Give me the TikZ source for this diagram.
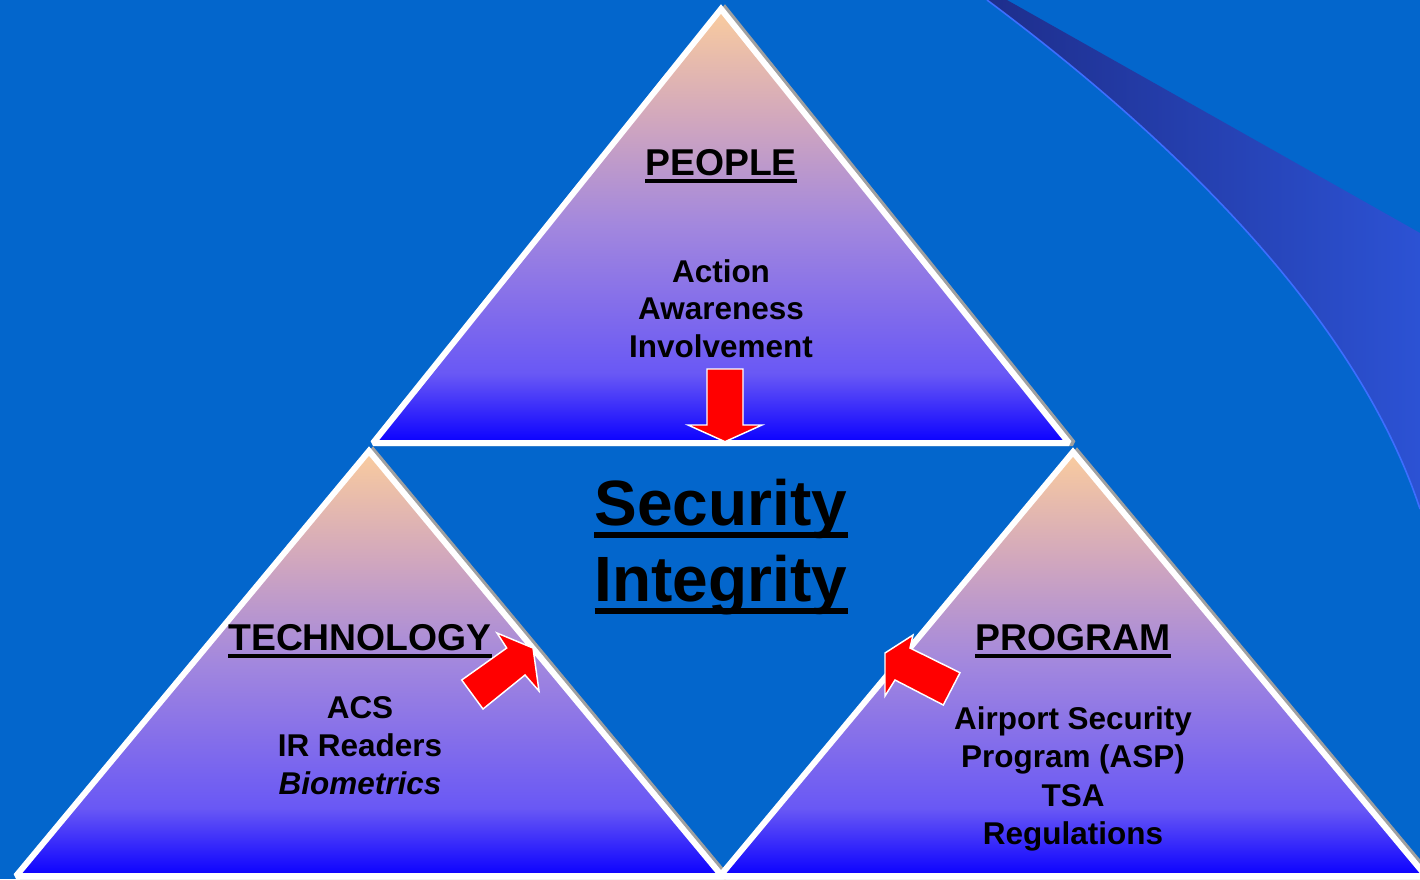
\documentclass[tikz,border=0pt]{standalone}
\usepackage{fontspec}
\setmainfont{Liberation Sans}
\definecolor{bgblue}{RGB}{3,102,204}
\definecolor{swl}{RGB}{30,46,140}
\definecolor{swr}{RGB}{44,82,212}
\definecolor{swline}{RGB}{60,110,255}
\definecolor{tritop}{RGB}{250,204,158}
\definecolor{tri3}{RGB}{208,166,190}
\definecolor{tri2}{RGB}{162,135,222}
\definecolor{tri1}{RGB}{105,88,245}
\definecolor{tribot}{RGB}{10,0,255}
\definecolor{shadowgray}{RGB}{160,160,160}
\definecolor{arrowred}{RGB}{255,0,0}
\pgfdeclareverticalshading{trishade}{100bp}{color(0bp)=(tribot); color(25bp)=(tribot); color(33bp)=(tri1); color(50bp)=(tri2); color(62bp)=(tri3); color(75bp)=(tritop); color(100bp)=(tritop)}
\tikzset{
  tri/.style={shading=trishade, draw=white, line width=4.5pt, line join=miter, miter limit=1.6},
  trishadow/.style={draw=shadowgray, line width=4.5pt, line join=miter, miter limit=1.6},
  hdr/.style={font=\fontsize{28}{34}\selectfont\bfseries, inner sep=0pt, anchor=base},
  body/.style={font=\fontsize{23.6}{28}\selectfont\bfseries, inner sep=0pt, anchor=base},
  big/.style={font=\fontsize{48}{56}\selectfont\bfseries, inner sep=0pt, anchor=base},
  redarrow/.style={fill=arrowred, draw=white, line width=1.1pt, line join=miter},
  ulsmall/.style={line width=2.6pt},
  ulbig/.style={line width=4.5pt}
}
\begin{document}
\begin{tikzpicture}[x=0.75pt,y=-0.75pt]
\useasboundingbox (0,0) rectangle (1420,879);
\fill[bgblue] (0,0) rectangle (1420,879);
% swoosh
\shade[left color=swl, right color=swr] (987,0) .. controls (1137,112) and (1350,297) .. (1420,509) -- (1420,233) -- (1007,0) -- cycle;
\draw[swline, line width=1.2pt] (987,0) .. controls (1137,112) and (1350,297) .. (1420,509);
% triangle shadows
\draw[trishadow, shift={(4,0)}] (721,9) -- (1069,443) -- (373,443) -- cycle;
\draw[trishadow, shift={(4,0)}] (369,451) -- (722,876) -- (16,876) -- cycle;
\draw[trishadow, shift={(4,0)}] (1073,452) -- (1426,876) -- (720,876) -- cycle;
% triangles
\path[tri] (721,9) -- (1069,443) -- (373,443) -- cycle;
\path[tri] (369,451) -- (722,876) -- (16,876) -- cycle;
\path[tri] (1073,452) -- (1426,876) -- (720,876) -- cycle;
% people
\node[hdr] (people) at (721,175) {PEOPLE};
\draw[ulsmall] ([yshift=-4.5pt]people.base west) -- ([yshift=-4.5pt]people.base east);
\node[body] (action) at (721,282) {Action};
\node[body] (awareness) at (721,319.5) {Awareness};
\node[body] (involvement) at (721,357) {Involvement};
% center
\node[big] (security) at (721,525) {Security};
\draw[ulbig] ([yshift=-7.5pt]security.base west) -- ([yshift=-7.5pt]security.base east);
\node[big] (integrity) at (721,601) {Integrity};
\draw[ulbig] ([yshift=-7.5pt]integrity.base west) -- ([yshift=-7.5pt]integrity.base east);
% technology
\node[hdr] (technology) at (360,650) {TECHNOLOGY};
\draw[ulsmall] ([yshift=-4.5pt]technology.base west) -- ([yshift=-4.5pt]technology.base east);
\node[body] (acs) at (360,718.5) {ACS};
\node[body] (irreaders) at (360,756.5) {IR Readers};
\node[body] (biometrics) at (360,794.5) {\itshape Biometrics};
% program
\node[hdr] (program) at (1073,650) {PROGRAM};
\draw[ulsmall] ([yshift=-4.5pt]program.base west) -- ([yshift=-4.5pt]program.base east);
\node[body] (airport) at (1073,729.5) {Airport Security};
\node[body] (asp) at (1073,767.8) {Program (ASP)};
\node[body] (tsa) at (1073,806.1) {TSA};
\node[body] (regulations) at (1073,844.4) {Regulations};
% arrows
\filldraw[redarrow] (707,369) -- (743,369) -- (743,425) -- (762,425) -- (725,441.7) -- (688,425) -- (707,425) -- cycle;
\filldraw[redarrow] (483,709) -- (461.7,680) -- (506.7,648) -- (497,633) -- (533,648) -- (539,691) -- (525,675) -- cycle;
\filldraw[redarrow] (885,653) -- (913,635) -- (910,648) -- (960,672.7) -- (943.3,705) -- (895,680) -- (885,696) -- cycle;
\end{tikzpicture}
\end{document}
